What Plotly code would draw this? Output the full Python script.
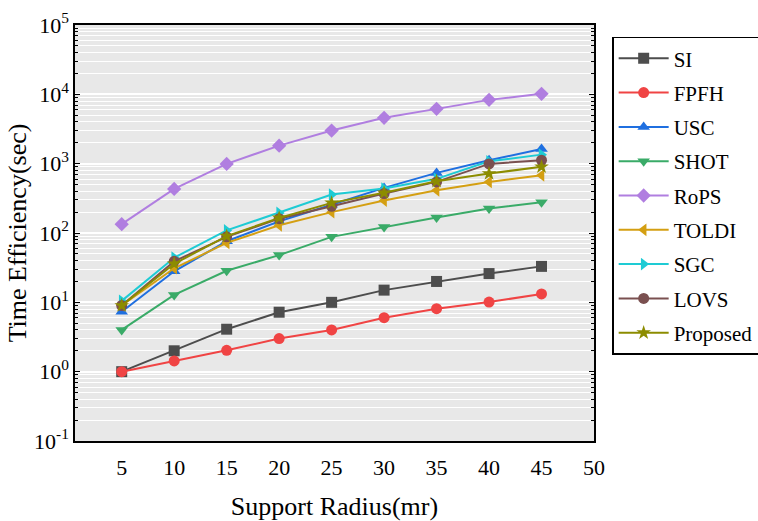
import plotly.graph_objects as go

radius = [5, 10, 15, 20, 25, 30, 35, 40, 45]
x_ticks = [5, 10, 15, 20, 25, 30, 35, 40, 45, 50]
y_tickvals = [0.1, 1, 10, 100, 1000, 10000, 100000]
y_ticktext = ["10<sup>-1</sup>", "10<sup>0</sup>", "10<sup>1</sup>", "10<sup>2</sup>",
              "10<sup>3</sup>", "10<sup>4</sup>", "10<sup>5</sup>"]

names = ["SI", "FPFH", "USC", "SHOT", "RoPS", "TOLDI", "SGC", "LOVS", "Proposed"]
si = [1, 2.0, 4.1, 7.2, 10, 15, 20, 26, 33]
fpfh = [1, 1.43, 2.03, 3.0, 4.0, 6.0, 8.1, 10.1, 13.2]
usc = [7.3, 28, 76, 147, 256, 447, 736, 1120, 1630]
shot = [4.0, 12.8, 28.5, 48, 88, 122, 167, 225, 277]
rops = [134, 432, 993, 1820, 3000, 4580, 6170, 8320, 10160]
toldi = [9, 31, 72, 129, 200, 294, 413, 546, 680]
sgc = [10.5, 44, 109, 195, 358, 437, 604, 1080, 1350]
lovs = [9, 39, 88, 161, 243, 371, 546, 993, 1120]
proposed = [9, 36, 90, 165, 272, 380, 557, 720, 900]
series = [si, fpfh, usc, shot, rops, toldi, sgc, lovs, proposed]

colors = ["#4d4d4d", "#f04444", "#1f6fe0", "#3aab68", "#b07ee0",
          "#d49f12", "#1ecbd4", "#7a5050", "#8c8c00"]
symbols = ["square", "circle", "triangle-up", "triangle-down", "diamond",
           "triangle-left", "triangle-right", "circle", "star"]

fig = go.Figure()
for i, (n, s) in enumerate(zip(names, series)):
    fig.add_trace(go.Scatter(
        x=radius, y=s, name=n, mode="lines+markers",
        legendgroup=n,
        line=dict(color=colors[i], width=2),
        marker=dict(symbol=symbols[i], size=11, color=colors[i]),
    ))

font = "Liberation Serif"
fig.update_layout(
    width=758, height=521,
    margin=dict(l=75, r=164, t=25, b=80, autoexpand=False),
    paper_bgcolor="white",
    plot_bgcolor="#e8e8e8",
    font=dict(family=font, color="black", size=21),
    showlegend=True,
    legend=dict(
        x=1.035, y=0.972, xanchor="left", yanchor="top",
        bordercolor="black", borderwidth=1.5, bgcolor="white",
        font=dict(family=font, size=21, color="black"),
        traceorder="grouped", tracegroupgap=4, itemwidth=50,
    ),
    xaxis=dict(
        range=[0.55, 50], tickvals=x_ticks, ticks="", showgrid=False, automargin=False,
        zeroline=False, showline=True, linecolor="black", linewidth=1.5, mirror=True,
        tickfont=dict(family=font, size=22, color="black"), ticklabelstandoff=6,
        title=dict(text="Support Radius(mr)", font=dict(family=font, size=26, color="black"),
                   standoff=22),
    ),
    yaxis=dict(
        type="log", range=[-1, 5], tickvals=y_tickvals, ticktext=y_ticktext, automargin=False,
        ticks="inside", ticklen=5, tickcolor="black", mirror="ticks",
        showline=True, linecolor="black", linewidth=1.5,
        showgrid=True, gridcolor="white", gridwidth=1.5,
        minor=dict(dtick="D1", ticks="inside", ticklen=3, tickcolor="black",
                   showgrid=True, gridcolor="white", gridwidth=1),
        tickfont=dict(family=font, size=22, color="black"),
        title=dict(text="Time Efficiency(sec)", font=dict(family=font, size=26, color="black"),
                   standoff=0),
    ),
)

fig.write_html("out.html")
